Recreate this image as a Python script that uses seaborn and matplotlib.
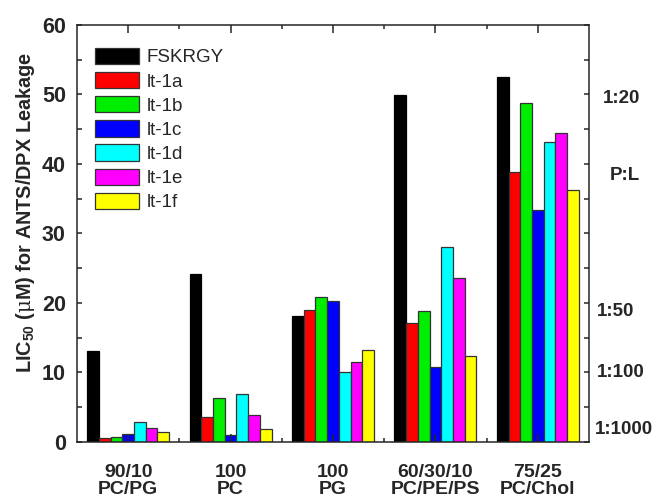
import numpy as np
import pandas as pd
import matplotlib
matplotlib.use("Agg")
import matplotlib.pyplot as plt
from matplotlib.ticker import MultipleLocator, FixedLocator
import seaborn as sns

lipids = ["90/10\nPC/PG", "100\nPC", "100\nPG", "60/30/10\nPC/PE/PS", "75/25\nPC/Chol"]
peptides = ["FSKRGY", "lt-1a", "lt-1b", "lt-1c", "lt-1d", "lt-1e", "lt-1f"]
colors = ["#000000", "#ff0000", "#00ee00", "#0000ff", "#00ffff", "#ff00ff", "#ffff00"]

fskrgy = [13.1, 24.2, 18.1, 49.9, 52.5]
lt_1a = [0.6, 3.6, 19.0, 17.1, 38.9]
lt_1b = [0.7, 6.3, 20.9, 18.8, 48.7]
lt_1c = [1.1, 0.9, 20.3, 10.7, 33.4]
lt_1d = [2.9, 6.8, 10.0, 28.1, 43.2]
lt_1e = [2.0, 3.9, 11.5, 23.6, 44.5]
lt_1f = [1.4, 1.9, 13.2, 12.4, 36.2]

ratio_labels = ["1:20", "P:L", "1:50", "1:100", "1:1000"]
ratio_y = [49.4, 38.3, 18.8, 9.9, 1.7]
ratio_x = [1.027, 1.04, 1.015, 1.015, 1.012]

series = [fskrgy, lt_1a, lt_1b, lt_1c, lt_1d, lt_1e, lt_1f]
rows = []
for name, vals in zip(peptides, series):
    for lip, v in zip(lipids, vals):
        rows.append({"lipid": lip, "peptide": name, "LIC50": v})
df = pd.DataFrame(rows)

sns.set_style("ticks")
plt.rcParams["font.family"] = ["Liberation Sans", "DejaVu Sans"]
plt.rcParams["mathtext.fontset"] = "custom"
plt.rcParams["mathtext.rm"] = "Liberation Sans:bold"
plt.rcParams["mathtext.it"] = "DejaVu Serif"

fig = plt.figure(figsize=(6.54, 4.99), dpi=100)
ax = fig.add_axes([0.1177, 0.1148, 0.7829, 0.8352])

sns.barplot(data=df, x="lipid", y="LIC50", hue="peptide", hue_order=peptides,
            palette=colors, width=0.8, edgecolor="#333333", linewidth=0.9,
            saturation=1, ax=ax)
for p in ax.patches[:5]:
    p.set_edgecolor("black")
for p in ax.patches:
    p.set_zorder(1)
ax.set_axisbelow(False)

ax.set_xlim(-0.5, 4.5)
ax.set_ylim(0, 60)
ax.yaxis.set_major_locator(MultipleLocator(10))
ax.yaxis.set_minor_locator(MultipleLocator(5))
ax.xaxis.set_minor_locator(FixedLocator([0.5, 1.5, 2.5, 3.5]))

for s in ax.spines.values():
    s.set_linewidth(1.1)
    s.set_visible(True)
    s.set_zorder(3)
ax.tick_params(axis="both", which="both", direction="in", top=True, right=True, width=1.1)
ax.tick_params(axis="y", which="both", length=3.8, labelsize=15.5, pad=8)
ax.tick_params(axis="x", which="major", length=6, labelsize=14, pad=16)
ax.tick_params(axis="x", which="minor", length=3)
for t in ax.get_yticklabels():
    t.set_fontweight("bold")
for t in ax.get_xticklabels():
    t.set_fontweight("bold")
    t.set_linespacing(1.0)

ax.set_xlabel("")
ax.set_ylabel(r"LIC$_{50}$ ($\mathit{\mu}$M) for ANTS/DPX Leakage", fontsize=14.3, fontweight="bold")
ax.yaxis.set_label_coords(-0.078, 0.55)

for lab, yv, xv in zip(ratio_labels, ratio_y, ratio_x):
    ax.text(xv, yv, lab, transform=ax.get_yaxis_transform(), fontsize=13.5,
            fontweight="bold", ha="left", va="center")

ax.legend(loc="upper left", bbox_to_anchor=(0.02, 0.963), frameon=False, fontsize=13.5,
          handlelength=2.35, handleheight=0.95, labelspacing=0.3, handletextpad=0.4,
          borderaxespad=0)

fig.savefig("out.png", dpi=100)
